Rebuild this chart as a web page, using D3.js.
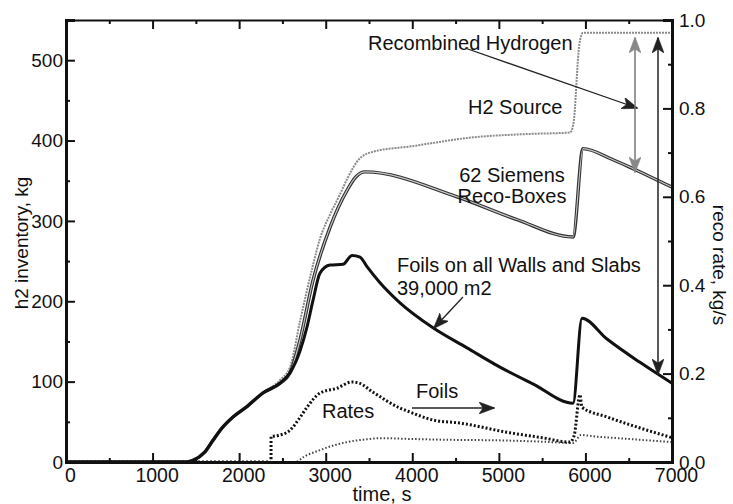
<!DOCTYPE html>
<html>
<head>
<meta charset="utf-8">
<script src="https://cdn.jsdelivr.net/npm/d3@7/dist/d3.min.js"></script>
<style>
html,body{margin:0;padding:0;background:#fff;}
svg{display:block;}
text{font-family:"Liberation Sans",Arial,sans-serif;fill:#111;}
</style>
</head>
<body>
<svg id="chart" width="733" height="504"></svg>
<script>
// ---- data ----
const xTicks = [0,1000,2000,3000,4000,5000,6000,7000];
const xMinor = [500,1500,2500,3500,4500,5500,6500];
const yLeftTicks = [0,100,200,300,400,500];
const yLeftMinor = [50,150,250,350,450];
const yRightTicks = [0,0.2,0.4,0.6,0.8,1.0];
const yRightMinor = [0.1,0.3,0.5,0.7,0.9];

// H2 source (recombined hydrogen), kg
const srcT = [0,1400,1467,1600,1698,1800,1929,2090,2276,2472,2588,2703,2853,2934,3050,3165,3246,3396,3546,4000,4701,5300,5822,5860,5930,5972,7000];
const srcV = [0,0,2,12,27,42,56,69,86,102,118,175,245,278,308,333,352,378,386,393,404,408,410,420,520,534,534];

// 62 Siemens Reco-Boxes, kg
const recoT = [0,1400,1467,1600,1698,1800,1929,2090,2276,2472,2588,2703,2853,3050,3246,3350,3454,4516,5200,5857,5972,6300,6550,7000];
const recoV = [0,0,2,12,27,42,56,69,86,98,111,152,226,292,338,355,361,330,302,280,390,377,365,342];

// Foils on all walls and slabs, kg
const foilT = [0,1400,1467,1600,1698,1800,1929,2090,2276,2472,2588,2703,2784,2853,2934,3050,3200,3304,3396,3477,3627,3858,4239,4632,5013,5398,5857,5960,6249,6630,7000];
const foilV = [0,0,2,12,27,42,56,69,86,98,111,138,168,201,235,245,246,257,255,243,223,198,167,142,118,97,73,179,153,124,98];

// Foil recombination rate, kg/s
const foilRateT = [0,2368,2369,2450,2588,2700,2784,2934,3130,3304,3380,3546,3858,3974,4239,4551,5129,5500,5822,5870,5937,5960,6249,6630,7000];
const foilRateV = [0,0,0.057,0.06,0.072,0.10,0.124,0.156,0.167,0.181,0.179,0.158,0.122,0.113,0.095,0.088,0.066,0.055,0.045,0.06,0.152,0.124,0.102,0.077,0.055];

// Reco-box recombination rate, kg/s
const recoRateT = [0,2650,2750,2934,3100,3246,3500,3627,4000,4500,5000,5500,5857,5950,6100,6500,7000];
const recoRateV = [0,0,0.012,0.027,0.038,0.045,0.052,0.054,0.052,0.05,0.049,0.046,0.043,0.061,0.058,0.052,0.045];

// ---- drawing ----
const svg = d3.select("#chart");
const x = d3.scaleLinear([0,7000],[66,672]);
const yL = d3.scaleLinear([0,550],[462,20]);
const yR = d3.scaleLinear([0,1],[462,20]);

const defs = svg.append("defs");
function marker(id, color){
  defs.append("marker").attr("id",id).attr("viewBox","0 0 16 12")
    .attr("refX",15).attr("refY",6).attr("markerWidth",16).attr("markerHeight",12)
    .attr("markerUnits","userSpaceOnUse").attr("orient","auto-start-reverse")
    .append("path").attr("d","M0,0 L16,6 L0,12 L4,6 Z").attr("fill",color).attr("stroke",color).attr("stroke-width",0.6);
}
marker("ab","#222");
marker("ag","#888");

const zip = (T,V) => T.map((t,i)=>({t,v:V[i]}));
const lineL = d3.line().x(d=>x(d.t)).y(d=>yL(d.v)).curve(d3.curveMonotoneX);
const lineR = d3.line().x(d=>x(d.t)).y(d=>yR(d.v)).curve(d3.curveMonotoneX);

const plot = svg.append("g");
// rates
plot.append("path").attr("d",lineR(zip(recoRateT,recoRateV))).attr("fill","none")
  .attr("stroke","#444").attr("stroke-width",2).attr("stroke-dasharray","1.5,2");
plot.append("path").attr("d",lineR(zip(foilRateT,foilRateV))).attr("fill","none")
  .attr("stroke","#111").attr("stroke-width",3).attr("stroke-dasharray","2,2");
// h2 source
plot.append("path").attr("d",lineL(zip(srcT,srcV))).attr("fill","none")
  .attr("stroke","#8a8a8a").attr("stroke-width",2).attr("stroke-dasharray","2,1");
// reco boxes (double line)
plot.append("path").attr("d",lineL(zip(recoT,recoV))).attr("fill","none")
  .attr("stroke","#333").attr("stroke-width",3.4);
plot.append("path").attr("d",lineL(zip(recoT,recoV))).attr("fill","none")
  .attr("stroke","#c8c8c8").attr("stroke-width",1.1);
// foils
plot.append("path").attr("d",lineL(zip(foilT,foilV))).attr("fill","none")
  .attr("stroke","#111").attr("stroke-width",3).attr("stroke-linejoin","round");

// ---- axes ----
function styleAxis(g, w){
  g.select(".domain").attr("stroke","#111").attr("stroke-width",w);
  g.selectAll(".tick line").attr("stroke","#111").attr("stroke-width",2);
  g.selectAll("text").attr("font-size",19).attr("font-family","Liberation Sans, Arial, sans-serif").attr("fill","#111");
}
const fmtR = d3.format(".1f");
const gb = svg.append("g").attr("transform","translate(0,462)")
  .call(d3.axisBottom(x).tickValues(xTicks).tickSize(-9).tickPadding(6).tickFormat(d3.format("d")));
styleAxis(gb,3); gb.selectAll("text").attr("dx",4).attr("font-size",19.5);
const gbm = svg.append("g").attr("transform","translate(0,462)")
  .call(d3.axisBottom(x).tickValues(xMinor).tickSize(-4).tickFormat(""));
styleAxis(gbm,0); gbm.select(".domain").remove();

const gt = svg.append("g").attr("transform","translate(0,20)")
  .call(d3.axisTop(x).tickValues(xTicks).tickSize(-9).tickFormat(""));
styleAxis(gt,2);
const gtm = svg.append("g").attr("transform","translate(0,20)")
  .call(d3.axisTop(x).tickValues(xMinor).tickSize(-4).tickFormat(""));
styleAxis(gtm,0); gtm.select(".domain").remove();

const gl = svg.append("g").attr("transform","translate(66,0)")
  .call(d3.axisLeft(yL).tickValues(yLeftTicks).tickSize(-9).tickPadding(3).tickFormat(d3.format("d")));
styleAxis(gl,3);
const glm = svg.append("g").attr("transform","translate(66,0)")
  .call(d3.axisLeft(yL).tickValues(yLeftMinor).tickSize(-4).tickFormat(""));
styleAxis(glm,0); glm.select(".domain").remove();

const gr = svg.append("g").attr("transform","translate(672,0)")
  .call(d3.axisRight(yR).tickValues(yRightTicks).tickSize(-9).tickPadding(7).tickFormat(fmtR));
styleAxis(gr,3);
const grm = svg.append("g").attr("transform","translate(672,0)")
  .call(d3.axisRight(yR).tickValues(yRightMinor).tickSize(-4).tickFormat(""));
styleAxis(grm,0); grm.select(".domain").remove();

// axis titles
svg.append("text").attr("transform","translate(28,243) rotate(-90)").attr("text-anchor","middle")
  .attr("font-size",19).text("h2 inventory, kg");
svg.append("text").attr("transform","translate(713,265) rotate(90)").attr("text-anchor","middle")
  .attr("font-size",19).text("reco rate, kg/s");
svg.append("text").attr("x",382).attr("y",501).attr("text-anchor","middle")
  .attr("font-size",20).text("time, s");

// ---- annotations ----
const ann = svg.append("g");
function label(tx,ty,s,anchor){ ann.append("text").attr("x",tx).attr("y",ty).attr("font-size",20)
  .attr("text-anchor",anchor||"start").text(s); }
label(368,50,"Recombined Hydrogen");
label(468,114,"H2 Source");
label(512,182,"62 Siemens","middle");
label(512,203,"Reco-Boxes","middle");
label(397,272,"Foils on all Walls and Slabs");
label(397,295,"39,000 m2");
label(322,418,"Rates");
label(416,398,"Foils");

function arrow(x1,y1,x2,y2,col,mk,both,w){
  const p = ann.append("line").attr("x1",x1).attr("y1",y1).attr("x2",x2).attr("y2",y2)
    .attr("stroke",col).attr("stroke-width",w||1.3).attr("marker-end",`url(#${mk})`);
  if(both) p.attr("marker-start",`url(#${mk})`);
}
arrow(465,48,637,108,"#222","ab");
arrow(635,38,635,172,"#777","ag",true,1.5);
arrow(658,38,658,374,"#222","ab",true,1.5);
arrow(463,297,434,328,"#222","ab");
arrow(412,408,494,408,"#222","ab");
</script>
</body>
</html>
